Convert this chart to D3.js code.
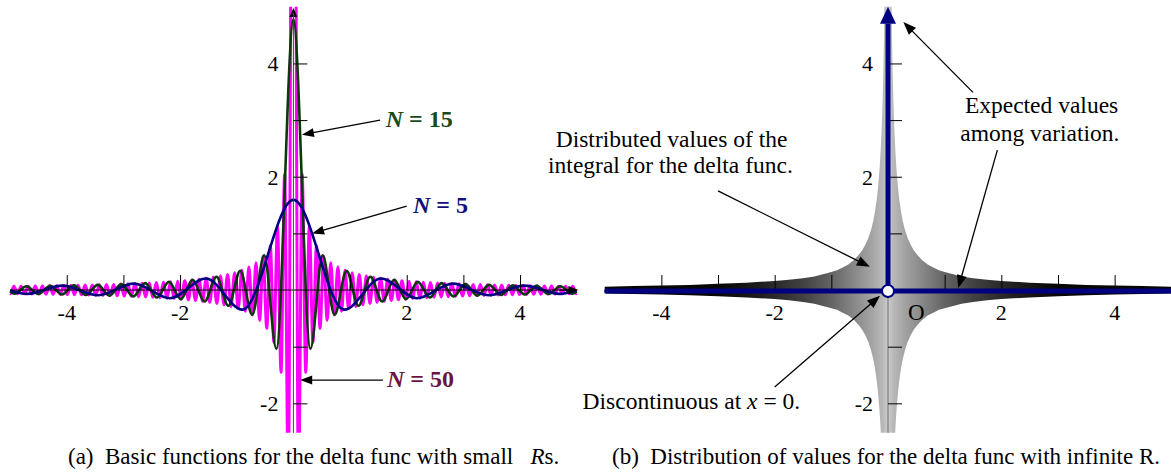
<!DOCTYPE html>
<html><head><meta charset="utf-8">
<script src="https://cdn.jsdelivr.net/npm/d3@7"></script>
<style>
body{margin:0;background:#fff}
svg{display:block}
text{font-family:"Liberation Serif","Times New Roman",serif;fill:#000}
</style>
</head><body>
<svg id="c" width="1171" height="474" font-family="Liberation Serif, Times New Roman, serif"></svg>
<script>
// ---------------- DATA ----------------
// Panel (a): extrema / end points of each basic function, x and y values
const xs5 = [-5,-4.704,-4.074,-3.444,-2.813,-2.181,-1.545,-0.899,0,0.899,1.545,2.181,2.813,3.444,4.074,4.704,5];
const ys5 = [-0.008,-0.068,0.078,-0.092,0.113,-0.145,0.204,-0.346,1.592,-0.346,0.204,-0.145,0.113,-0.092,0.078,-0.068,-0.008];

const xs15 = [-5,-4.921,-4.711,-4.502,-4.292,-4.083,-3.874,-3.664,-3.454,-3.245,-3.035,-2.826,-2.616,-2.407,-2.197,-1.987,-1.778,-1.568,-1.358,-1.148,-0.938,-0.727,-0.515,-0.300,
  0,0.300,0.515,0.727,0.938,1.148,1.358,1.568,1.778,1.987,2.197,2.407,2.616,2.826,3.035,3.245,3.454,3.664,3.874,4.083,4.292,4.502,4.711,4.921,5];
const ys15 = [-0.025,-0.065,0.068,-0.071,0.074,-0.078,0.082,-0.087,0.092,-0.098,0.105,-0.113,0.122,-0.132,0.145,-0.160,0.179,-0.203,0.234,-0.277,0.339,-0.436,0.613,-1.037,
  4.775,-1.037,0.613,-0.436,0.339,-0.277,0.234,-0.203,0.179,-0.160,0.145,-0.132,0.122,-0.113,0.105,-0.098,0.092,-0.087,0.082,-0.078,0.074,-0.071,0.068,-0.065,-0.025];

const xs50 = [-5,-4.995,-4.932,-4.869,-4.807,-4.744,-4.681,-4.618,-4.555,-4.492,
  -4.430,-4.367,-4.304,-4.241,-4.178,-4.115,-4.053,-3.990,-3.927,-3.864,
  -3.801,-3.739,-3.676,-3.613,-3.550,-3.487,-3.424,-3.362,-3.299,-3.236,
  -3.173,-3.110,-3.047,-2.985,-2.922,-2.859,-2.796,-2.733,-2.670,-2.608,
  -2.545,-2.482,-2.419,-2.356,-2.293,-2.231,-2.168,-2.105,-2.042,-1.979,
  -1.916,-1.854,-1.791,-1.728,-1.665,-1.602,-1.539,-1.477,-1.414,-1.351,
  -1.288,-1.225,-1.162,-1.100,-1.037,-0.974,-0.911,-0.848,-0.785,-0.723,
  -0.659,-0.596,-0.533,-0.470,-0.407,-0.344,-0.281,-0.218,-0.155,-0.090,
  0,
  0.090,0.155,0.218,0.281,0.344,0.407,0.470,0.533,0.596,0.659,
  0.723,0.785,0.848,0.911,0.974,1.037,1.100,1.162,1.225,1.288,
  1.351,1.414,1.477,1.539,1.602,1.665,1.728,1.791,1.854,1.916,
  1.979,2.042,2.105,2.168,2.231,2.293,2.356,2.419,2.482,2.545,
  2.608,2.670,2.733,2.796,2.859,2.922,2.985,3.047,3.110,3.173,
  3.236,3.299,3.362,3.424,3.487,3.550,3.613,3.676,3.739,3.801,
  3.864,3.927,3.990,4.053,4.115,4.178,4.241,4.304,4.367,4.430,
  4.492,4.555,4.618,4.681,4.744,4.807,4.869,4.932,4.995,5];
const ys50 = [-0.062,-0.064,0.065,-0.065,0.066,-0.067,0.068,-0.069,0.070,-0.071,
  0.072,-0.073,0.074,-0.075,0.076,-0.077,0.079,-0.080,0.081,-0.082,
  0.084,-0.085,0.087,-0.088,0.090,-0.091,0.093,-0.095,0.097,-0.098,
  0.100,-0.102,0.105,-0.107,0.109,-0.111,0.114,-0.117,0.119,-0.122,
  0.125,-0.128,0.132,-0.135,0.139,-0.143,0.147,-0.151,0.156,-0.161,
  0.166,-0.172,0.178,-0.184,0.191,-0.199,0.207,-0.216,0.225,-0.236,
  0.247,-0.260,0.274,-0.290,0.307,-0.327,0.349,-0.375,0.405,-0.441,
  0.483,-0.534,0.597,-0.676,0.780,-0.923,1.128,-1.453,2.044,-3.457,
  15.915,
  -3.457,2.044,-1.453,1.128,-0.923,0.780,-0.676,0.597,-0.534,0.483,
  -0.441,0.405,-0.375,0.349,-0.327,0.307,-0.290,0.274,-0.260,0.247,
  -0.236,0.225,-0.216,0.207,-0.199,0.191,-0.184,0.178,-0.172,0.166,
  -0.161,0.156,-0.151,0.147,-0.143,0.139,-0.135,0.132,-0.128,0.125,
  -0.122,0.119,-0.117,0.114,-0.111,0.109,-0.107,0.105,-0.102,0.100,
  -0.098,0.097,-0.095,0.093,-0.091,0.090,-0.088,0.087,-0.085,0.084,
  -0.082,0.081,-0.080,0.079,-0.077,0.076,-0.075,0.074,-0.073,0.072,
  -0.071,0.070,-0.069,0.068,-0.067,0.066,-0.065,0.065,-0.064,-0.062];

// Panel (b): upper bound of the distributed values (band is +/- this bound)
const envX = [0.055,0.06,0.07,0.08,0.09,0.1,0.115,0.13,0.15,0.175,0.2,0.23,0.26,0.3,0.35,0.4,0.45,0.5,0.6,0.7,0.8,0.9,1.0,1.15,1.3,1.5,1.75,2,2.5,3,3.5,4,4.5,5];
const envY = [5.79,5.31,4.55,3.98,3.54,3.18,2.77,2.45,2.12,1.82,1.59,1.38,1.22,1.06,0.91,0.80,0.71,0.64,0.53,0.45,0.40,0.35,0.32,0.28,0.24,0.21,0.18,0.16,0.13,0.11,0.09,0.08,0.07,0.06];

// ticks and labels
const xTicks = [-4,-3,-2,-1,1,2,3,4];
const yTicks = [4,3,2,1,-1,-2];
const xTickLabels = [-4,-2,2,4];
const yTickLabels = [4,2,-2];

// ---------------- DRAWING ----------------
const FONT = 'Liberation Serif, Times New Roman, serif';
const svg = d3.select('#c');
const defs = svg.append('defs');
const xL = d3.scaleLinear().domain([-5,5]).range([10.1,576.7]);
const xR = d3.scaleLinear().domain([-5,5]).range([604.7,1171.3]);
const y = d3.scaleLinear().domain([-2.55,5.12]).range([434.5,0]);
const yTop = 5.0, yBot = -2.52;
const y0 = y(0);

function clip(id, sx){
  defs.append('clipPath').attr('id',id).append('rect')
    .attr('x',sx(-5)-2).attr('width',sx(5)-sx(-5)+4)
    .attr('y',y(yTop)).attr('height',y(yBot)-y(yTop));
}
clip('clipL',xL); clip('clipR',xR);

function arrow(g, sx, x1,y1,x2,y2, color, len, hw, w){
  const X1=sx(x1),Y1=y(y1),X2=sx(x2),Y2=y(y2);
  const a=Math.atan2(Y2-Y1,X2-X1);
  const bx=X2-len*Math.cos(a), by=Y2-len*Math.sin(a);
  if(w>0) g.append('line').attr('x1',X1).attr('y1',Y1).attr('x2',bx+2*Math.cos(a)).attr('y2',by+2*Math.sin(a))
    .attr('stroke',color).attr('stroke-width',w);
  g.append('polygon').attr('fill',color).attr('points',[
    [X2,Y2],[bx-hw*Math.sin(a),by+hw*Math.cos(a)],[bx+hw*Math.sin(a),by-hw*Math.cos(a)]].map(p=>p.join(',')).join(' '));
}

function axes(g, sx, yAxisColor){
  g.append('line').attr('x1',sx(0)).attr('x2',sx(0)).attr('y1',y(yBot)).attr('y2',y(yTop)+6)
    .attr('stroke',yAxisColor).attr('stroke-width',1);
  const ax = g.append('g').attr('transform',`translate(0,${y0})`)
    .call(d3.axisTop(sx).tickValues(xTicks).tickSize(15).tickFormat(''));
  ax.select('.domain').remove();
  ax.selectAll('line').attr('stroke','#000');
  const ay = g.append('g').attr('transform',`translate(${sx(0)},0)`)
    .call(d3.axisRight(y).tickValues(yTicks).tickSize(14).tickFormat(''));
  ay.select('.domain').remove();
  ay.selectAll('line').attr('stroke','#000');
  g.selectAll('.xl').data(xTickLabels).join('text').attr('class','xl').attr('font-family',FONT)
    .attr('x',d=>sx(d)).attr('y',y0+30).attr('text-anchor','middle').attr('font-size',22).text(d=>d);
  g.selectAll('.yl').data(yTickLabels).join('text').attr('class','yl').attr('font-family',FONT)
    .attr('x',sx(0)-15).attr('y',d=>y(d)+8).attr('text-anchor','end').attr('font-size',22).text(d=>d);
}

// ---- Panel (a)
const gL = svg.append('g');
const lineL = d3.line().x(d=>xL(d[0])).y(d=>y(d[1])).curve(d3.curveMonotoneX);
const seriesL = [
  {xs:xs50, ys:ys50, color:'#ff00ff', w:3},
  {xs:xs15, ys:ys15, color:'#0a3a0a', w:2.6},
  {xs:xs5,  ys:ys5,  color:'#000080', w:2.6}
];
const gCurves = gL.append('g').attr('clip-path','url(#clipL)');
seriesL.forEach(s=>{
  gCurves.append('path').datum(s.xs.map((x,i)=>[x,s.ys[i]]))
    .attr('d',lineL).attr('fill','none').attr('stroke',s.color).attr('stroke-width',s.w)
    .attr('stroke-linejoin','round');
});
gL.append('line').attr('x1',xL(-5)).attr('x2',xL(5)-6).attr('y1',y0).attr('y2',y0).attr('stroke','#000').attr('stroke-width',1);
arrow(gL,xL,4.7,0,5.03,0,'#000',10,4,1);
arrow(gL,xL,0,4.6,0,yTop-0.02,'#000',9,4,1);
axes(gL,xL,'#444');

function nLabel(g, sx, x, yy, num, color){
  const t=g.append('text').attr('x',sx(x)).attr('y',y(yy)).attr('font-size',24).attr('font-family',FONT)
    .attr('font-weight','bold').attr('fill',color);
  t.append('tspan').attr('font-style','italic').attr('fill',color).text('N');
  t.append('tspan').attr('fill',color).text(' = '+num);
}
arrow(gL,xL,1.53,3.0,0.15,2.74,'#000',12,4.5,1.3);
nLabel(gL,xL,1.63,2.88,'15','#1a4a1a');
arrow(gL,xL,2.0,1.48,0.33,1.0,'#000',12,4.5,1.3);
nLabel(gL,xL,2.11,1.36,'5','#101078');
arrow(gL,xL,1.58,-1.59,0.12,-1.59,'#000',12,4.5,1.3);
nLabel(gL,xL,1.65,-1.71,'50','#6a1444');

// ---- Panel (b)
const gR = svg.append('g');
const grad = defs.append('linearGradient').attr('id','shade').attr('gradientUnits','userSpaceOnUse')
  .attr('x1',xR(-5)).attr('x2',xR(5)).attr('y1',0).attr('y2',0);
const shadeAbsX = [3.0,2.2,1.5,1.0,0.6,0.3,0.08,0];
const shadeCol  = ['#060606','#202020','#424242','#646464','#888888','#a2a2a2','#bababa','#cecece'];
const stopsData = shadeAbsX.map((v,i)=>({x:-v,c:shadeCol[i]}))
  .concat(shadeAbsX.slice().reverse().slice(1).map((v,i)=>({x:v,c:shadeCol[shadeCol.length-2-i]})));
grad.selectAll('stop').data(stopsData).join('stop')
  .attr('offset',d=>(d.x+5)/10).attr('stop-color',d=>d.c);

const n = envX.length;
const band = [];
for(let i=n-1;i>=0;i--) band.push([envX[i],envY[i]]);
for(let i=0;i<n;i++) band.push([-envX[i],envY[i]]);
for(let i=n-1;i>=0;i--) band.push([-envX[i],-envY[i]]);
for(let i=0;i<n;i++) band.push([envX[i],-envY[i]]);
gR.append('g').attr('clip-path','url(#clipR)').append('path')
  .attr('d',d3.line().x(d=>xR(d[0])).y(d=>y(d[1]))(band)+'Z')
  .attr('fill','url(#shade)');

axes(gR,xR,'#6a6a6a');
gR.append('text').attr('x',xR(0.5)).attr('y',y0+30).attr('text-anchor','middle').attr('font-size',23).attr('font-family',FONT).text('O');

gR.append('line').attr('x1',xR(-5)+2).attr('x2',xR(5)).attr('y1',y0+1).attr('y2',y0+1)
  .attr('stroke','#000080').attr('stroke-width',5).attr('stroke-linecap','round');
gR.append('line').attr('x1',xR(0)).attr('x2',xR(0)).attr('y1',y0).attr('y2',y(4.7))
  .attr('stroke','#000080').attr('stroke-width',5);
arrow(gR,xR,0,4.5,0,yTop,'#000080',17,8,0);
gR.append('circle').attr('cx',xR(0)).attr('cy',y0+1).attr('r',6)
  .attr('fill','#fff').attr('stroke','#000080').attr('stroke-width',2);

function txt(g, sx, x, yy, s, anchor){
  return g.append('text').attr('x',sx(x)).attr('y',y(yy)).attr('text-anchor',anchor||'middle')
    .attr('font-size',23.5).attr('font-family',FONT).text(s);
}
txt(gR,xR,-3.82,2.53,'Distributed values of the');
txt(gR,xR,-3.84,2.06,'integral for the delta func.');
arrow(gR,xR,-3.0,1.75,-0.32,0.41,'#000',13,5,1.3);
txt(gR,xR,2.71,3.12,'Expected values');
txt(gR,xR,2.68,2.63,'among variation.');
arrow(gR,xR,1.5,3.49,0.27,4.73,'#000',13,5,1.3);
arrow(gR,xR,1.93,2.47,1.24,0.035,'#000',13,5,1.3);
const td = gR.append('text').attr('x',xR(-5.39)).attr('y',y(-2.1)).attr('font-size',23.5).attr('font-family',FONT);
td.append('tspan').text('Discontinuous at ');
td.append('tspan').attr('font-style','italic').text('x');
td.append('tspan').text(' = 0.');
arrow(gR,xR,-2.0,-1.71,-0.14,-0.1,'#000',13,5,1.3);

// captions
const capA = svg.append('text').attr('x',68).attr('y',464).attr('font-size',23).attr('font-family',FONT).style('white-space','pre');
capA.append('tspan').text('(a)  Basic functions for the delta func with small   ');
capA.append('tspan').attr('font-style','italic').text('R');
capA.append('tspan').text('s.');
svg.append('text').attr('x',612).attr('y',464).attr('font-size',23).attr('font-family',FONT).style('white-space','pre')
  .text('(b)  Distribution of values for the delta func with infinite R.');
</script>
</body></html>
